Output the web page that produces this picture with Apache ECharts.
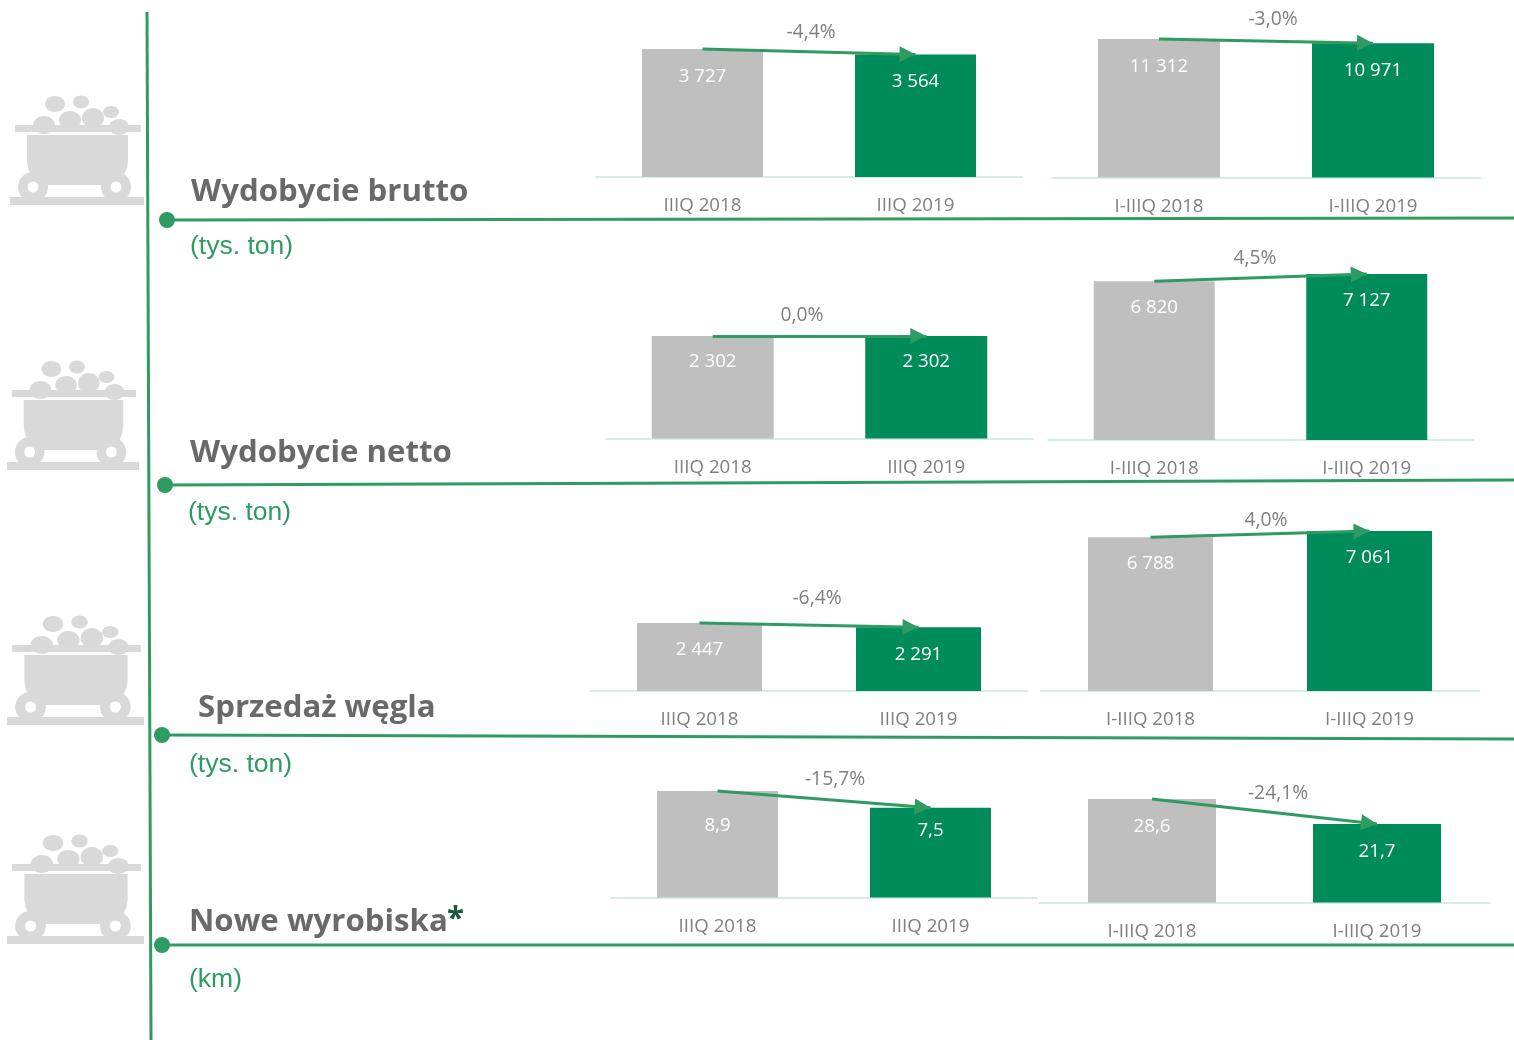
<!DOCTYPE html>
<html><head><meta charset="utf-8">
<style>html,body{margin:0;padding:0;background:#fff}#c{width:1514px;height:1040px}</style>
<script src="https://cdn.jsdelivr.net/npm/echarts@6/dist/echarts.min.js"></script>
</head><body><div id="c"></div>
<script>
// ---- data ----
const catsQ = ['IIIQ 2018', 'IIIQ 2019'];
const catsYtd = ['I-IIIQ 2018', 'I-IIIQ 2019'];
const bruttoQ = [3727, 3564];
const bruttoYtd = [11312, 10971];
const nettoQ = [2302, 2302];
const nettoYtd = [6820, 7127];
const sprzedazQ = [2447, 2291];
const sprzedazYtd = [6788, 7061];
const wyrobiskaQ = [8.9, 7.5];
const wyrobiskaYtd = [28.6, 21.7];
const changes = ['-4,4%', '-3,0%', '0,0%', '4,5%', '-6,4%', '4,0%', '-15,7%', '-24,1%'];
const sectionTitles = ['Wydobycie brutto', 'Wydobycie netto', 'Sprzedaż węgla', 'Nowe wyrobiska'];
const sectionUnits = ['(tys. ton)', '(tys. ton)', '(tys. ton)', '(km)'];

// ---- layout ----
const GREEN = '#2e9b62', BAR_GREEN = '#008c5a', BAR_GREY = '#bfbfbf', ICON = '#d9d9d9';
const LABEL_FONT = '"Open Sans", sans-serif';
const panels = [
  {cats: catsQ,   vals: bruttoQ,     x0: 596,    x1: 1022,   base: 177,   top: 49,  bw: 121, pct: [811, 32],   dist: [18, 18]},
  {cats: catsYtd, vals: bruttoYtd,   x0: 1052,   x1: 1480,   base: 177.5, top: 39,  bw: 122, pct: [1273, 19],  dist: [18, 18]},
  {cats: catsQ,   vals: nettoQ,      x0: 606,    x1: 1033,   base: 438.5, top: 336, bw: 122, pct: [802, 315],  dist: [16.5, 16.5]},
  {cats: catsYtd, vals: nettoYtd,    x0: 1048,   x1: 1473,   base: 440,   top: 274, bw: 121, pct: [1255, 258], dist: [17, 17]},
  {cats: catsQ,   vals: sprzedazQ,   x0: 590,    x1: 1028,   base: 691,   top: 623, bw: 125, pct: [817, 598],  dist: [17, 18]},
  {cats: catsYtd, vals: sprzedazYtd, x0: 1041,   x1: 1479,   base: 691,   top: 531, bw: 125, pct: [1266, 520], dist: [17, 17]},
  {cats: catsQ,   vals: wyrobiskaQ,  x0: 611,    x1: 1037,   base: 897.5, top: 791, bw: 121, pct: [835, 779],  dist: [25, 13.5]},
  {cats: catsYtd, vals: wyrobiskaYtd,x0: 1039.5, x1: 1489.5, base: 902.5, top: 799, bw: 128, pct: [1278, 793], dist: [18, 18]}
];
const H = 1040, W = 1514;
const fmt = v => v >= 1000
  ? String(v).replace(/\B(?=(\d{3})+$)/g, ' ')
  : v.toFixed(1).replace('.', ',');

const grid = [], xAxis = [], yAxis = [], series = [];
panels.forEach((p, i) => {
  grid.push({left: p.x0, top: p.top, width: p.x1 - p.x0, height: p.base - p.top});
  xAxis.push({
    type: 'category', gridIndex: i, data: p.cats,
    axisTick: {show: false},
    axisLine: {lineStyle: {color: '#d5eee5', width: 2}},
    axisLabel: {color: '#7f7f7f', fontFamily: LABEL_FONT, fontSize: 18.7, margin: 19.5}
  });
  yAxis.push({type: 'value', gridIndex: i, min: 0, max: Math.max(...p.vals), show: false, splitLine: {show: false}});
  series.push({
    type: 'bar', xAxisIndex: i, yAxisIndex: i, barWidth: p.bw, animation: false, silent: true,
    data: p.vals.map((v, j) => ({value: v, itemStyle: {color: j ? BAR_GREEN : BAR_GREY},
                                 label: {distance: p.dist[j]}})),
    label: {show: true, position: 'insideTop', color: '#fff',
            fontFamily: LABEL_FONT, fontSize: 18.7, formatter: o => fmt(o.value)},
    markLine: {
      silent: true, animation: false, symbol: ['none', 'triangle'], symbolSize: [16, 16],
      symbolOffset: [0, [0, 8]],
      label: {show: false},
      lineStyle: {color: GREEN, width: 3, type: 'solid'},
      data: [[{coord: [p.cats[0], p.vals[0]]}, {coord: [p.cats[1], p.vals[1]]}]]
    }
  });
});

// ---- cart icon ----
const tubOutline = [[27,135],[128,135],[128,161],[127,168],[124,175],[120,181],[115,185],[40,185],[35,181],[31,175],[28,168],[27,161]];
function cart(dx, dy, sx) {
  const e = (cx, cy, rx, ry) => ({type: 'ellipse', shape: {cx, cy, rx, ry}, style: {fill: ICON}});
  const c = (cx, cy, r, fill) => ({type: 'circle', shape: {cx, cy, r}, style: {fill}});
  return {
    type: 'group', x: dx, y: dy, scaleX: sx, silent: true,
    children: [
      e(55, 104, 10, 8), e(81, 102, 8, 6.5), e(111, 112, 8, 6),
      e(44, 125, 11, 9), e(70, 120, 11, 9), e(93, 118, 11, 10), e(119, 127, 10, 8),
      {type: 'rect', shape: {x: 15, y: 125, width: 126, height: 7}, style: {fill: ICON}},
      {type: 'polygon', shape: {points: tubOutline}, style: {fill: ICON}},
      c(33, 187, 15, ICON), c(116, 187, 15, ICON),
      c(33, 187, 5.5, '#fff'), c(116, 187, 5.5, '#fff'),
      {type: 'rect', shape: {x: 10, y: 197, width: 134, height: 8}, style: {fill: ICON}}
    ]
  };
}
const line = (x1, y1, x2, y2) => ({type: 'line', silent: true, shape: {x1, y1, x2, y2}, style: {stroke: GREEN, lineWidth: 3}});
const dot = (cx, cy) => ({type: 'circle', silent: true, shape: {cx, cy, r: 8}, style: {fill: GREEN}});
const text = (x, y, t, font, fill, align) => ({type: 'text', silent: true, x, y,
  style: {text: t, font, fill, textAlign: align || 'left', textVerticalAlign: 'middle'}});

const TITLE_FONT = 'bold 31.2px "Open Sans", sans-serif';
const UNIT_FONT = '26.5px "Liberation Sans", sans-serif';
const graphics = [
  line(147, 12, 151, H),
  line(167, 220, W, 218), dot(167, 220),
  line(165, 485, W, 480), dot(165, 485),
  line(162, 735, W, 739), dot(162, 735),
  line(162, 945, W, 945), dot(162, 945),
  cart(0, 0, 1), cart(-2.85, 265, 0.985), cart(-3.2, 520, 1.022), cart(-3.2, 739, 1.022),
  text(191, 192, sectionTitles[0], TITLE_FONT, '#696969'),
  text(190, 453, sectionTitles[1], TITLE_FONT, '#696969'),
  text(198, 708, sectionTitles[2], TITLE_FONT, '#696969'),
  text(189, 922.5, sectionTitles[3], TITLE_FONT, '#696969'),
  text(447, 919, '*', TITLE_FONT, '#17593b'),
  text(190, 247, sectionUnits[0], UNIT_FONT, GREEN),
  text(188, 513, sectionUnits[1], UNIT_FONT, GREEN),
  text(189, 765, sectionUnits[2], UNIT_FONT, GREEN),
  text(189, 980, sectionUnits[3], UNIT_FONT, GREEN)
];
panels.forEach((p, i) => graphics.push(text(p.pct[0], p.pct[1] + 0.5, changes[i], '19.3px ' + LABEL_FONT, '#7f7f7f', 'center')));

const chart = echarts.init(document.getElementById('c'), null, {renderer: 'canvas', width: W, height: H});
chart.setOption({animation: false, backgroundColor: '#fff', grid, xAxis, yAxis, series, graphic: {elements: graphics}});
</script></body></html>
